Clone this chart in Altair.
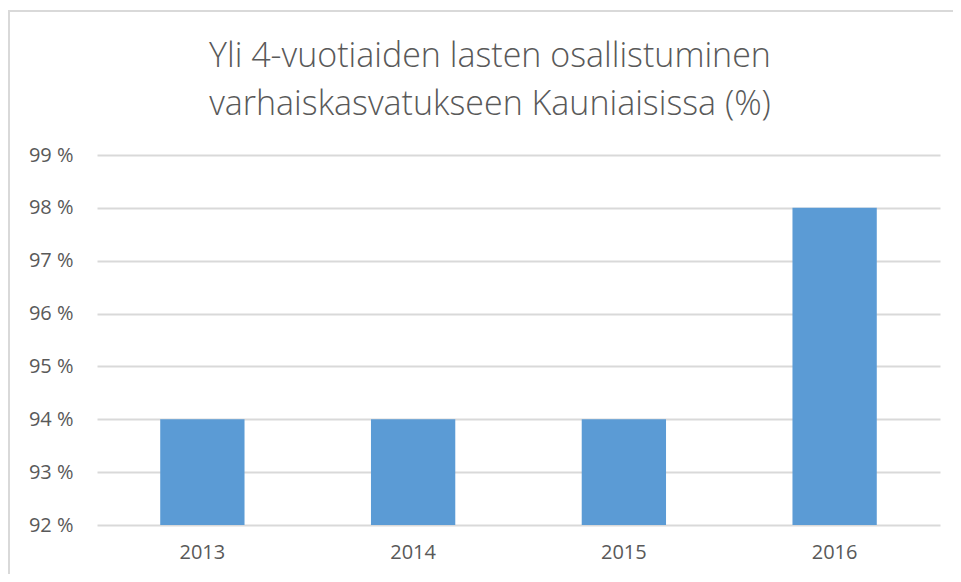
import altair as alt
import pandas as pd

years = ["2013", "2014", "2015", "2016"]
values = [94, 94, 94, 98]
title_lines = ["Yli 4-vuotiaiden lasten osallistuminen",
               "varhaiskasvatukseen Kauniaisissa (%)"]

df = pd.DataFrame({"year": years, "value": values})

W, H = 843, 370
FONT = "Open Sans"
GRAY = "#595959"

bars = alt.Chart(df).mark_bar(color="#5b9bd5").encode(
    x=alt.X("year:N", sort=years,
            scale=alt.Scale(paddingInner=0.6, paddingOuter=0.3),
            axis=alt.Axis(title=None, labelAngle=0, domain=False, ticks=False,
                          labelFont=FONT, labelFontSize=20, labelColor=GRAY,
                          labelPadding=17, grid=False)),
    y=alt.Y("value:Q", scale=alt.Scale(domain=[92, 99], zero=False, nice=False),
            axis=alt.Axis(title=None, values=[92, 93, 94, 95, 96, 97, 98, 99],
                          labelExpr="datum.value + ' %'",
                          domain=False, ticks=False, grid=True,
                          gridColor="#d9d9d9", gridWidth=2,
                          labelFont=FONT, labelFontSize=20, labelColor=GRAY,
                          labelPadding=24)),
    y2=alt.datum(92),
)

one = alt.Data(values=[{}])

t1 = alt.Chart(one).mark_text(text=title_lines[0], font=FONT, fontSize=34,
                              fontWeight=300, color=GRAY, align="center",
                              baseline="alphabetic").encode(
    x=alt.value(393), y=alt.value(-88))
t2 = alt.Chart(one).mark_text(text=title_lines[1], font=FONT, fontSize=34,
                              fontWeight=300, color=GRAY, align="center",
                              baseline="alphabetic").encode(
    x=alt.value(393), y=alt.value(-40))

border_left = alt.Chart(one).mark_rule(color="#d9d9d9", strokeWidth=2).encode(
    x=alt.value(-88), y=alt.value(-145), y2=alt.value(500))
border_top = alt.Chart(one).mark_rule(color="#d9d9d9", strokeWidth=2).encode(
    x=alt.value(-89), x2=alt.value(900), y=alt.value(-144))

chart = alt.layer(border_left, border_top, bars, t1, t2).properties(
    width=W, height=H,
    background="white",
    autosize=alt.AutoSizeParams(type="none"),
    padding={"left": 89, "top": 147, "right": 13, "bottom": 49},
).configure_view(strokeWidth=0, stroke="transparent")

chart.save("out.html", embed_options={"renderer": "svg", "actions": False})
